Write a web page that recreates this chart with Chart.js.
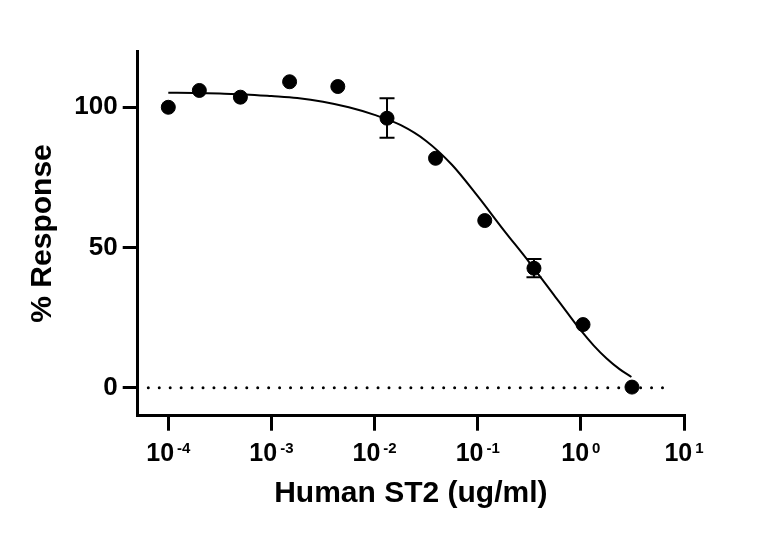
<!DOCTYPE html>
<html><head><meta charset="utf-8">
<script src="https://cdn.jsdelivr.net/npm/chart.js@4.4.0/dist/chart.umd.min.js"></script>
<style>html,body{margin:0;padding:0;background:#fff;overflow:hidden}</style>
</head><body>
<canvas id="c" width="768" height="538" style="display:block;width:768px;height:538px"></canvas>
<script>
// ---- data ----
const concentrations = [1e-4, 2e-4, 5e-4, 1.5e-3, 4.4e-3, 0.0132, 0.039, 0.117, 0.351, 1.05, 3.13];
const responses      = [100.0, 106.0, 103.6, 109.1, 107.4, 96.1, 81.8, 59.6, 42.6, 22.5, 0.2];
const errorLow       = [null, null, null, null, null, 89.1, null, null, 39.4, null, null];
const errorHigh      = [null, null, null, null, null, 103.2, null, null, 45.9, null, null];
// fitted curve
const fitX = [1e-4, 1.778e-4, 3.162e-4, 5.623e-4, 1e-3, 1.778e-3, 3.162e-3, 5.623e-3, 0.01, 0.01778, 0.03162, 0.05623, 0.1, 0.1778, 0.3162, 0.5623, 0.75, 1, 1.334, 1.778, 2.371, 3.09];
const fitY = [105.2, 105.1, 104.9, 104.6, 104.0, 103.3, 102.0, 100.0, 97.3, 93.7, 88.0, 79.5, 68.3, 56.3, 44.7, 32.5, 26.4, 20.4, 15.0, 10.4, 6.6, 3.8];
const baselineX = [6.4e-5, 7.8];
const baselineY = [0, 0];
const xTickValues = [1e-4, 1e-3, 1e-2, 1e-1, 1, 10];
const xTickBase = '10';
const xTickExponents = ['-4', '-3', '-2', '-1', '0', '1'];
const yTickValues = [0, 50, 100];
const xTitle = 'Human ST2 (ug/ml)';
const yTitle = '% Response';

const FONT = '"Liberation Sans", Arial, sans-serif';

const toPts = (xs, ys) => xs.map((x, i) => ({x: x, y: ys[i]}));

const errorBarPlugin = {
  id: 'errorBars',
  afterDatasetsDraw(chart) {
    const ctx = chart.ctx, xs = chart.scales.x, ys = chart.scales.y;
    ctx.save();
    ctx.strokeStyle = '#000';
    ctx.lineWidth = 2;
    concentrations.forEach((c, i) => {
      if (errorLow[i] == null) return;
      const px = xs.getPixelForValue(c);
      const yl = ys.getPixelForValue(errorLow[i]);
      const yh = ys.getPixelForValue(errorHigh[i]);
      ctx.beginPath();
      ctx.moveTo(px, yl); ctx.lineTo(px, yh);
      ctx.moveTo(px - 7.5, yl); ctx.lineTo(px + 7.5, yl);
      ctx.moveTo(px - 7.5, yh); ctx.lineTo(px + 7.5, yh);
      ctx.stroke();
    });
    ctx.restore();
  }
};

const xLabelPlugin = {
  id: 'xPowerLabels',
  afterDraw(chart) {
    const ctx = chart.ctx, xs = chart.scales.x;
    const baseY = xs.top + 45;
    const baseFont = 'bold 25px ' + FONT, expFont = 'bold 15px ' + FONT;
    ctx.save();
    ctx.fillStyle = '#000';
    ctx.textBaseline = 'alphabetic';
    ctx.textAlign = 'left';
    xTickValues.forEach((v, i) => {
      const px = xs.getPixelForValue(v);
      ctx.font = baseFont;
      const bw = ctx.measureText(xTickBase).width;
      ctx.font = expFont;
      const ew = ctx.measureText(xTickExponents[i]).width;
      const gap = 3;
      const x0 = px - (bw + gap + ew) / 2;
      ctx.font = baseFont;
      ctx.fillText(xTickBase, x0, baseY);
      ctx.font = expFont;
      ctx.fillText(xTickExponents[i], x0 + bw + gap, baseY - 8);
    });
    ctx.restore();
  }
};

new Chart(document.getElementById('c'), {
  type: 'scatter',
  data: {
    datasets: [
      {
        label: 'Response',
        data: toPts(concentrations, responses),
        backgroundColor: '#000',
        borderColor: '#000',
        pointRadius: 7,
        pointHoverRadius: 7,
        showLine: false,
        clip: false,
        order: 0
      },
      {
        label: 'Fit',
        data: toPts(fitX, fitY),
        showLine: true,
        borderColor: '#000',
        borderWidth: 2,
        pointRadius: 0,
        cubicInterpolationMode: 'monotone',
        fill: false,
        clip: false,
        order: 1
      },
      {
        label: 'Baseline',
        data: toPts(baselineX, baselineY),
        showLine: true,
        borderColor: '#000',
        borderWidth: 3,
        borderDash: [0, 10.94],
        borderCapStyle: 'round',
        pointRadius: 0,
        fill: false,
        clip: false,
        order: 2
      }
    ]
  },
  options: {
    responsive: false,
    animation: false,
    events: [],
    layout: { padding: { top: 51.2, right: 84, bottom: 0, left: 0 } },
    plugins: { legend: { display: false }, tooltip: { enabled: false } },
    scales: {
      x: {
        type: 'logarithmic',
        position: 'bottom',
        min: 5.05e-5,
        max: 10,
        afterBuildTicks: (s) => { s.ticks = xTickValues.map(v => ({value: v})); },
        afterFit: (s) => { s.height = 538 - 415.7; },
        border: { display: true, color: '#000', width: 3 },
        grid: { display: true, drawOnChartArea: false, drawTicks: true, tickLength: 15, color: '#000', lineWidth: 3 },
        ticks: { display: false },
        title: { display: true, text: xTitle, color: '#000', font: { family: FONT, size: 30, weight: 'bold' }, padding: { top: 0, bottom: 26 } }
      },
      y: {
        type: 'linear',
        position: 'left',
        min: -10,
        max: 120,
        afterBuildTicks: (s) => { s.ticks = yTickValues.map(v => ({value: v})); },
        afterFit: (s) => { s.width = 137.7; },
        border: { display: true, color: '#000', width: 3 },
        grid: { display: true, drawOnChartArea: false, drawTicks: true, tickLength: 15, color: '#000', lineWidth: 3 },
        ticks: { color: '#000', padding: 5, font: { family: FONT, size: 26, weight: 'bold' } },
        title: { display: true, text: yTitle, color: '#000', font: { family: FONT, size: 30, weight: 'bold' }, padding: { top: 25, bottom: 0 } }
      }
    }
  },
  plugins: [errorBarPlugin, xLabelPlugin]
});
</script>
</body></html>
